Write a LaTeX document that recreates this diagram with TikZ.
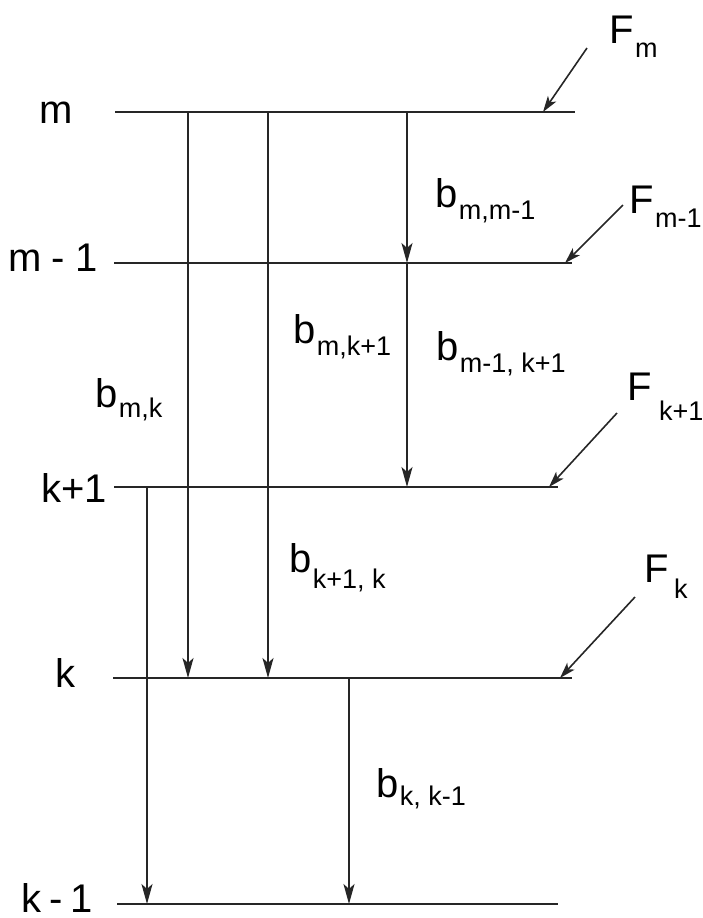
\documentclass[tikz,border=0pt]{standalone}
\usepackage{fontspec}
\setmainfont{Liberation Sans}
\usetikzlibrary{arrows.meta}
\newcommand{\lsub}[2][6pt]{\kern0.6pt\raisebox{-#1}{\fontsize{13.5}{14}\selectfont #2}}

\begin{document}
\begin{tikzpicture}[x=0.5pt, y=-0.5pt,
  every node/.style={font=\fontsize{20}{24}\selectfont, inner sep=0pt},
  >={Stealth[length=10pt,width=5.5pt,inset=2.5pt]},
  level/.style={line width=1.1pt, draw=black!85},
  trans/.style={->, line width=1.1pt, black!85},
  feed/.style={-{Stealth[length=8pt,width=5pt,inset=2pt]}, line width=0.8pt, black!85},
  lvl/.style={anchor=base},
  rate/.style={anchor=base west}
]
\useasboundingbox (0,0) rectangle (703,918);

% energy levels
\coordinate (mL) at (115,112);  \coordinate (mR) at (575,112);
\coordinate (m1L) at (114,263); \coordinate (m1R) at (572,263);
\coordinate (kpL) at (114,487); \coordinate (kpR) at (558,487);
\coordinate (kL) at (113,678);  \coordinate (kR) at (572,678);
\coordinate (kmL) at (117,904); \coordinate (kmR) at (558,904);

\draw[level] (mL) -- (mR);
\draw[level] (m1L) -- (m1R);
\draw[level] (kpL) -- (kpR);
\draw[level] (kL) -- (kR);
\draw[level] (kmL) -- (kmR);

\node[lvl] (lm) at (56,123) {m};
\node[lvl] (lm1) at (53,271) {m\kern5pt-\kern5pt1};
\node[lvl] (lkp) at (74,502) {k+1};
\node[lvl] (lk) at (65,687) {k};
\node[lvl] (lkm) at (57,912) {k\kern4pt-\kern4pt1};

% transitions
\coordinate (t1a) at (188,112); \coordinate (t1b) at (188,678);
\coordinate (t2a) at (268,112); \coordinate (t2b) at (268,678);
\coordinate (t3a) at (407,112); \coordinate (t3b) at (407,263);
\coordinate (t4b) at (407,487);
\coordinate (t5a) at (147,487); \coordinate (t5b) at (147,904);
\coordinate (t6a) at (349,678); \coordinate (t6b) at (349,904);

\draw[trans] (t1a) -- (t1b);
\draw[trans] (t2a) -- (t2b);
\draw[trans] (t3a) -- (t3b);
\draw[trans] (t3b) -- (t4b);
\draw[trans] (t5a) -- (t5b);
\draw[trans] (t6a) -- (t6b);

\node[rate] (bmm1) at (435,207) {b\lsub{m,m-1}};
\node[rate] (bmkp) at (293,343) {b\lsub{m,k+1}};
\node[rate] (bm1kp) at (436,360) {b\lsub{m-1, k+1}};
\node[rate] (bmk) at (95,407) {b\lsub[5pt]{m,k}};
\node[rate] (bkpk) at (289,572) {b\lsub[8pt]{k+1, k}};
\node[rate] (bkkm) at (376,797) {b\lsub[4pt]{k, k-1}};

% feeding
\coordinate (fms) at (587,48);   \coordinate (fme) at (543,112);
\coordinate (fm1s) at (623,205); \coordinate (fm1e) at (565,263);
\coordinate (fkps) at (617,413); \coordinate (fkpe) at (549,487);
\coordinate (fks) at (635,597);  \coordinate (fke) at (560,678);

\draw[feed] (fms) -- (fme);
\draw[feed] (fm1s) -- (fm1e);
\draw[feed] (fkps) -- (fkpe);
\draw[feed] (fks) -- (fke);

\node[rate] (Fm) at (609,43) {F\lsub[7pt]{m}};
\node[rate] (Fm1) at (629,213) {F\lsub[7pt]{m-1}};
\node[rate] (Fkp) at (627,400) {F\lsub[10pt]{\kern3pt k+1}};
\node[rate] (Fk) at (644,582) {F\lsub[8pt]{\kern2pt k}};
\end{tikzpicture}
\end{document}
